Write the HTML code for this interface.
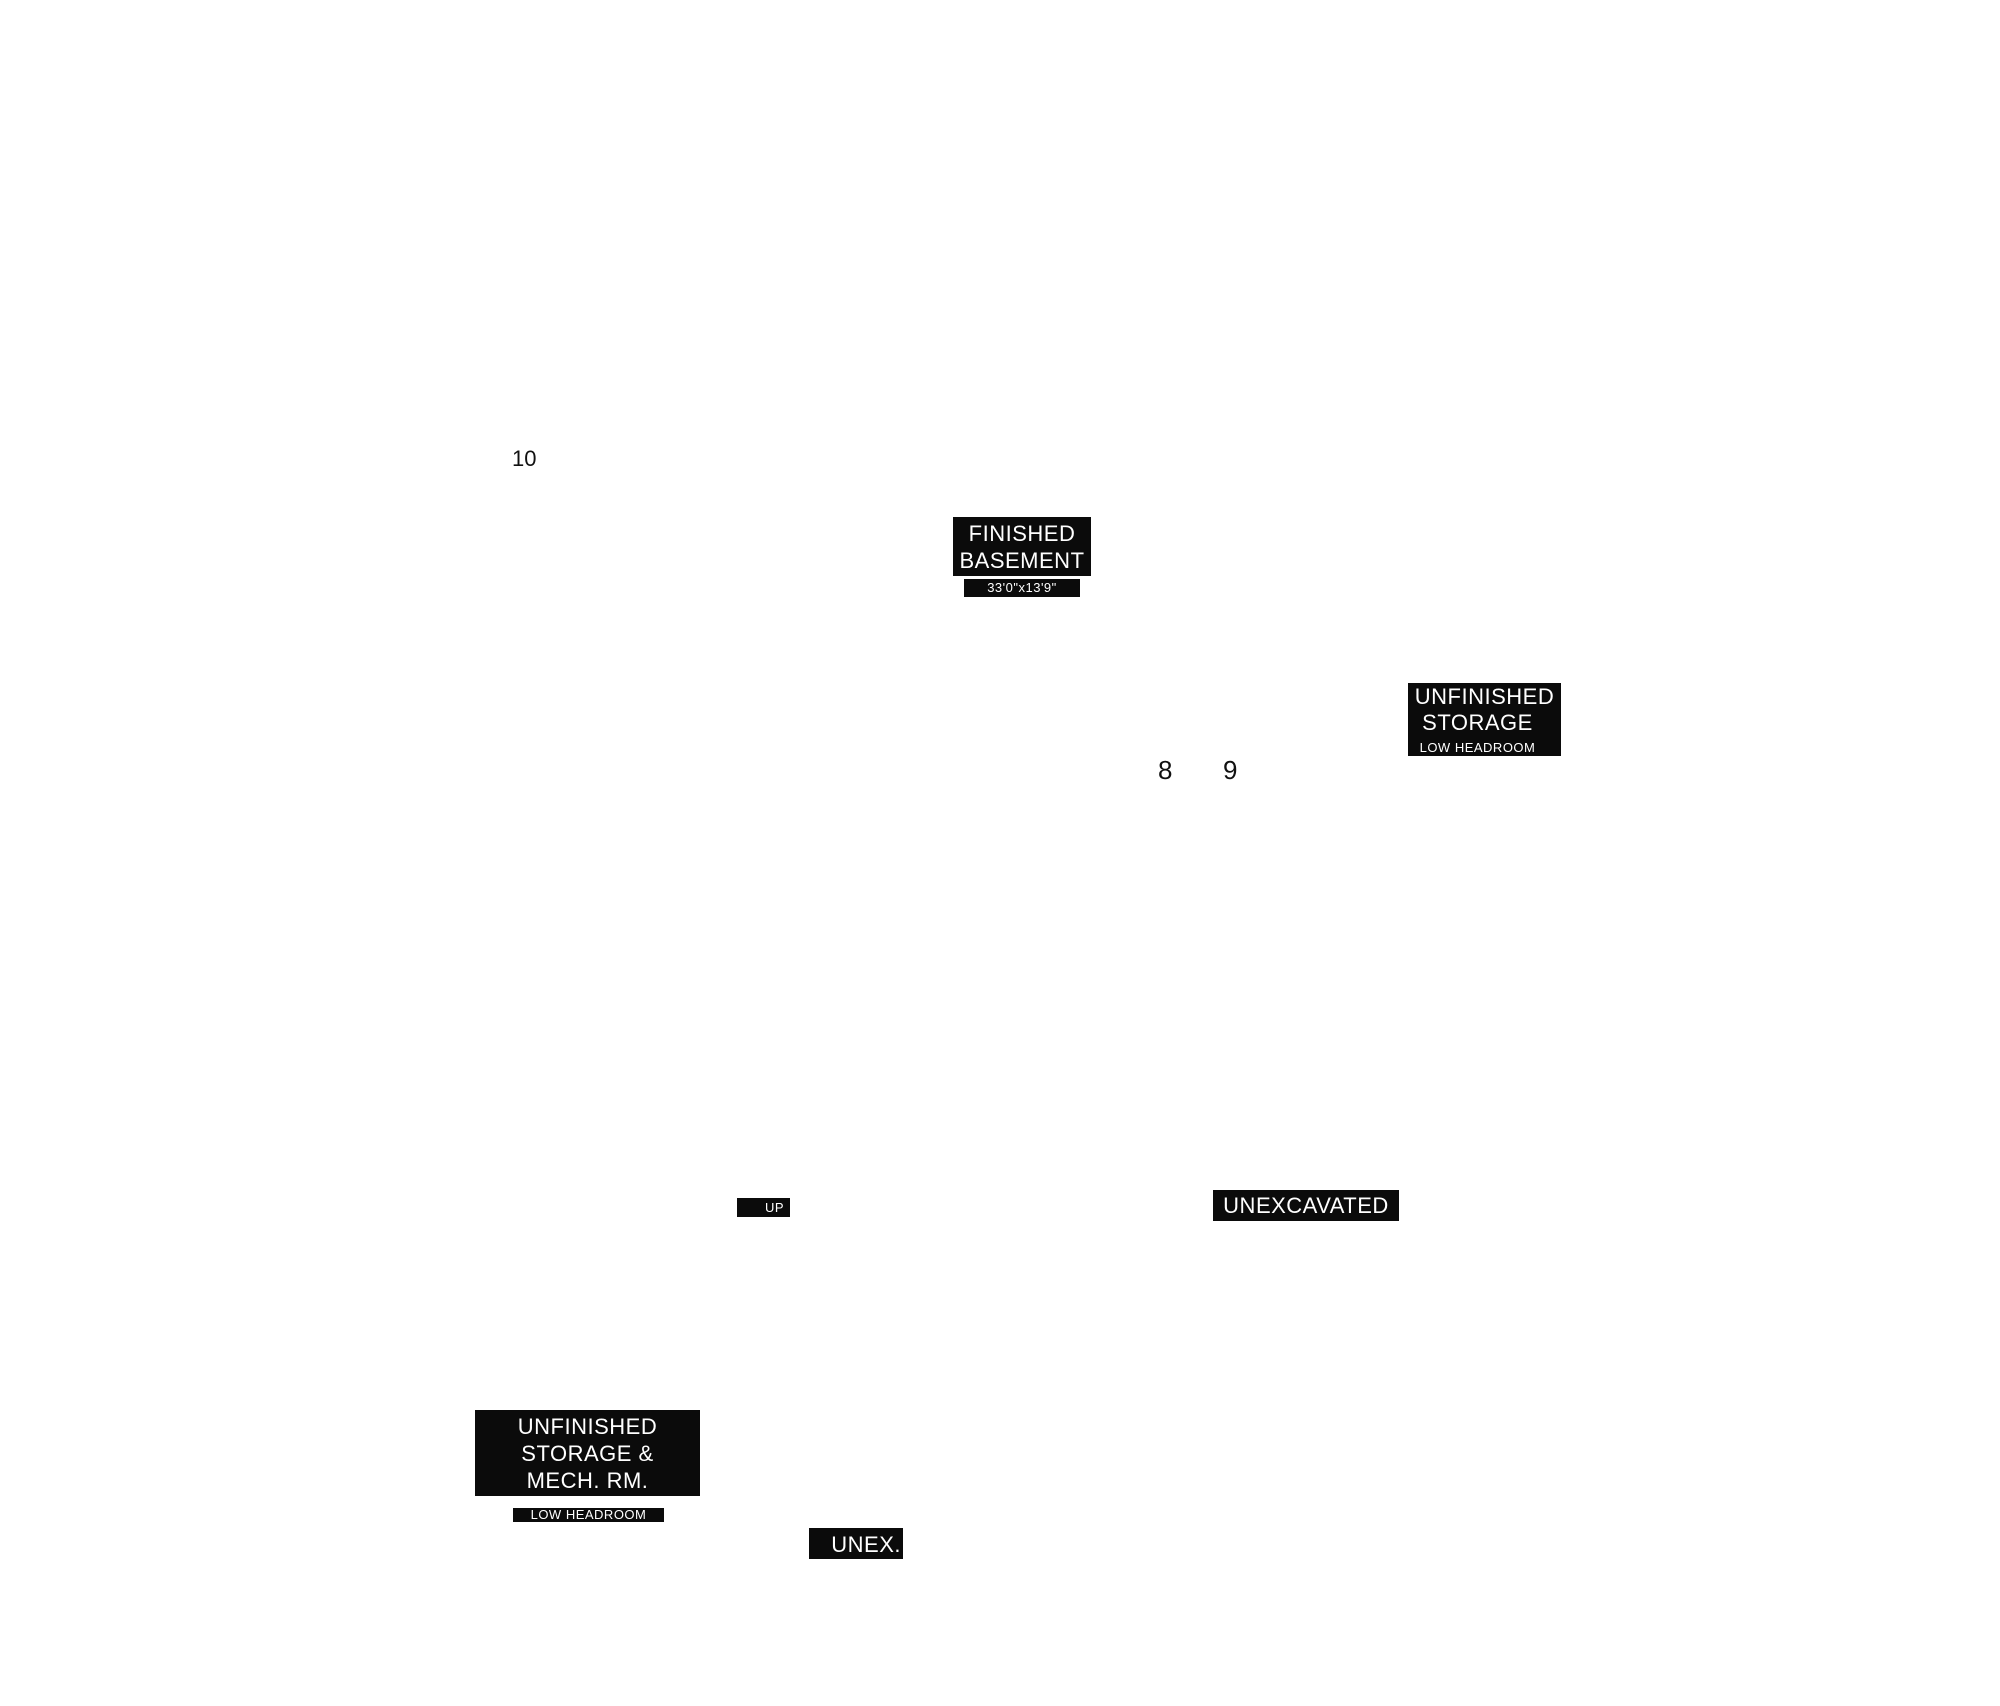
<!DOCTYPE html>
<html><head><meta charset="utf-8"><style>
html,body{margin:0;padding:0;background:#fff;width:2000px;height:1706px;overflow:hidden;position:relative}
.b{position:absolute;background:#0b0b0b;color:#fff;font-family:"Liberation Sans Narrow","Liberation Sans",sans-serif;text-align:center;overflow:hidden;box-sizing:border-box;letter-spacing:0.5px}
.t{position:absolute;font-family:"Liberation Sans Narrow","Liberation Sans",sans-serif;color:#111}
</style></head><body>
<div class="t" style="left:512px;top:446px;font-size:22px">10</div>
<div class="b" style="left:953px;top:517px;width:138px;height:59px;font-size:22px;line-height:27px;padding-top:3px">FINISHED<br>BASEMENT</div>
<div class="b" style="left:964px;top:579px;width:116px;height:18px;font-size:13px;line-height:18px">33'0"x13'9"</div>
<div class="b" style="left:1408px;top:683px;width:153px;height:73px;font-size:22px;line-height:26px;padding-top:1px">UNFINISHED<br><span style="margin-right:14px">STORAGE</span><br><span style="font-size:13px;line-height:16px;margin-right:14px;position:relative;top:-4px">LOW HEADROOM</span></div>
<div class="t" style="left:1158px;top:755px;font-size:26px">8</div>
<div class="t" style="left:1223px;top:755px;font-size:26px">9</div>
<div class="b" style="left:737px;top:1198px;width:53px;height:19px;font-size:13px;line-height:19px;text-align:right;padding-right:6px">UP</div>
<div class="b" style="left:1213px;top:1190px;width:186px;height:31px;font-size:22px;line-height:31px">UNEXCAVATED</div>
<div class="b" style="left:475px;top:1410px;width:225px;height:86px;font-size:22px;line-height:27px;padding-top:3px">UNFINISHED<br>STORAGE &amp;<br>MECH. RM.</div>
<div class="b" style="left:513px;top:1508px;width:151px;height:14px;font-size:13px;line-height:14px">LOW HEADROOM</div>
<div class="b" style="left:809px;top:1528px;width:94px;height:31px;font-size:22px;line-height:33px;text-align:right;padding-right:2px">UNEX.</div>
</body></html>
